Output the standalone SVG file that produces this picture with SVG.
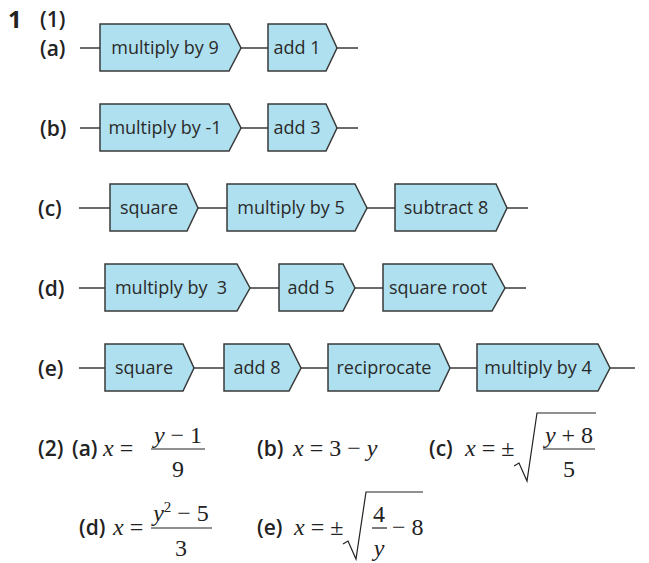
<svg xmlns="http://www.w3.org/2000/svg" width="649" height="563" viewBox="0 0 649 563">
<style>
.bx{fill:#aee0ef;stroke:#3a3a3a;stroke-width:1.5}
.bt{font-family:"Open Sans","Liberation Sans",sans-serif;font-size:18px;fill:#2a2a2a;text-anchor:middle;white-space:pre}
.lb{font-family:"Open Sans","Liberation Sans",sans-serif;font-size:21px;font-weight:600;fill:#222}
.cn line{stroke:#3a3a3a;stroke-width:1.5}
.m{font-family:"Liberation Serif","Times New Roman",serif;font-size:24px;fill:#222}
.mi{font-style:italic}
.mc{text-anchor:middle}
.rule{stroke:#222;stroke-width:1.2;fill:none}
</style>
<rect width="649" height="563" fill="#fff"/>
<text x="8" y="28" class="lb" style="font-size:24px;font-weight:700">1</text>
<text x="40" y="27" class="lb">(1)</text>
<g id="labels">
<text x="40" y="56" class="lb">(a)</text>
<text x="40" y="136" class="lb">(b)</text>
<text x="38" y="216" class="lb">(c)</text>
<text x="38" y="296" class="lb">(d)</text>
<text x="38" y="376" class="lb">(e)</text>
</g>
<g class="cn" id="connectors">
<line x1="80" y1="48" x2="100" y2="48"/><line x1="241" y1="48" x2="268" y2="48"/><line x1="337" y1="48" x2="358" y2="48"/>
<line x1="80" y1="128" x2="100" y2="128"/><line x1="241" y1="128" x2="268" y2="128"/><line x1="337" y1="128" x2="358" y2="128"/>
<line x1="79" y1="208" x2="110" y2="208"/><line x1="198" y1="208" x2="227" y2="208"/><line x1="367" y1="208" x2="395" y2="208"/><line x1="507" y1="208" x2="528" y2="208"/>
<line x1="79" y1="288" x2="105" y2="288"/><line x1="250" y1="288" x2="279" y2="288"/><line x1="355" y1="288" x2="383" y2="288"/><line x1="505" y1="288" x2="526" y2="288"/>
<line x1="79" y1="368" x2="105" y2="368"/><line x1="194" y1="368" x2="224" y2="368"/><line x1="301" y1="368" x2="328" y2="368"/><line x1="450" y1="368" x2="477" y2="368"/><line x1="610" y1="368" x2="635" y2="368"/>
</g>
<g id="a1"><polygon class="bx" points="100,24 229,24 241,48 229,71 100,71"/><text class="bt" x="165" y="54">multiply by 9</text></g>
<g id="a2"><polygon class="bx" points="268,24 326,24 337,48 326,71 268,71"/><text class="bt" x="297" y="54">add 1</text></g>
<g id="b1"><polygon class="bx" points="100,104 229,104 241,128 229,151 100,151"/><text class="bt" x="165" y="134">multiply by -1</text></g>
<g id="b2"><polygon class="bx" points="268,104 326,104 337,128 326,151 268,151"/><text class="bt" x="297" y="134">add 3</text></g>
<g id="c1"><polygon class="bx" points="110,184 187,184 198,208 187,231 110,231"/><text class="bt" x="149" y="214">square</text></g>
<g id="c2"><polygon class="bx" points="227,184 355,184 367,208 355,231 227,231"/><text class="bt" x="291" y="214">multiply by 5</text></g>
<g id="c3"><polygon class="bx" points="395,184 496,184 507,208 496,231 395,231"/><text class="bt" x="446" y="214">subtract 8</text></g>
<g id="d1"><polygon class="bx" points="105,264 237,264 250,288 237,311 105,311"/><text class="bt" x="171" y="294">multiply by  3</text></g>
<g id="d2"><polygon class="bx" points="279,264 343,264 355,288 343,311 279,311"/><text class="bt" x="311" y="294">add 5</text></g>
<g id="d3"><polygon class="bx" points="383,264 492,264 505,288 492,311 383,311"/><text class="bt" x="438" y="294">square root</text></g>
<g id="e1"><polygon class="bx" points="105,344 183,344 194,368 183,391 105,391"/><text class="bt" x="144" y="374">square</text></g>
<g id="e2"><polygon class="bx" points="224,344 289,344 301,368 289,391 224,391"/><text class="bt" x="257" y="374">add 8</text></g>
<g id="e3"><polygon class="bx" points="328,344 439,344 450,368 439,391 328,391"/><text class="bt" x="384" y="374">reciprocate</text></g>
<g id="e4"><polygon class="bx" points="477,344 598,344 610,368 598,391 477,391"/><text class="bt" x="538" y="374">multiply by 4</text></g>
<g id="answers">
<text x="38" y="456" class="lb">(2)</text>
<text x="72" y="456" class="lb">(a)</text>
<text x="103" y="456" class="m"><tspan class="mi">x</tspan> =</text>
<text x="178" y="443" class="m mc"><tspan class="mi">y</tspan> − 1</text>
<line class="rule" x1="151" y1="449" x2="205" y2="449"/>
<text x="178" y="477" class="m mc">9</text>
<text x="257" y="456" class="lb">(b)</text>
<text x="293" y="456" class="m"><tspan class="mi">x</tspan> = 3 − <tspan class="mi">y</tspan></text>
<text x="429" y="456" class="lb">(c)</text>
<text x="465" y="456" class="m"><tspan class="mi">x</tspan> = ±</text>
<path class="rule" d="M514 466 L519 463 L527 481 L537 413 L596 413"/>
<text x="569" y="443" class="m mc"><tspan class="mi">y</tspan> + 8</text>
<line class="rule" x1="543" y1="449" x2="595" y2="449"/>
<text x="569" y="477" class="m mc">5</text>
<text x="79" y="535" class="lb">(d)</text>
<text x="113" y="535" class="m"><tspan class="mi">x</tspan> =</text>
<text x="181" y="521" class="m mc"><tspan class="mi">y</tspan><tspan dy="-9" font-size="15">2</tspan><tspan dy="9"> − 5</tspan></text>
<line class="rule" x1="151" y1="528" x2="212" y2="528"/>
<text x="181" y="556" class="m mc">3</text>
<text x="257" y="535" class="lb">(e)</text>
<text x="294" y="535" class="m"><tspan class="mi">x</tspan> = ±</text>
<path class="rule" d="M343 544 L348 541 L356 559 L366 492 L423 492"/>
<text x="379" y="522" class="m mc">4</text>
<line class="rule" x1="372" y1="528" x2="387" y2="528"/>
<text x="379" y="556" class="m mc mi">y</text>
<text x="392" y="535" class="m">− 8</text>
</g>
</svg>
